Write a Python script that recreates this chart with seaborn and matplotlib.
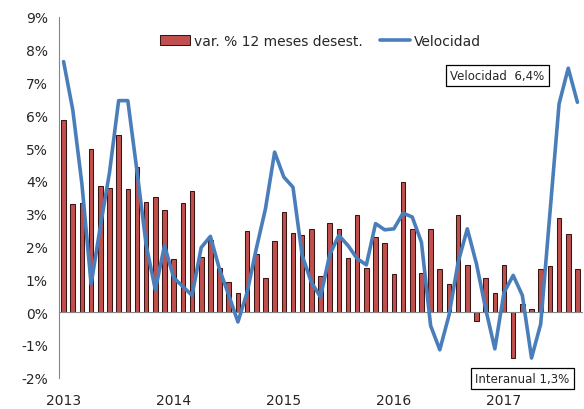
import numpy as np
import pandas as pd
import matplotlib
matplotlib.use("Agg")
import matplotlib.pyplot as plt
import matplotlib.transforms as mtransforms
from matplotlib.patches import Patch
from matplotlib.lines import Line2D
import seaborn as sns

# Monthly data Jan 2013 - Sep 2017
interanual = [5.87, 3.31, 3.34, 4.98, 3.86, 3.78, 5.41, 3.75, 4.42, 3.35,
              3.52, 3.12, 1.62, 3.34, 3.68, 1.69, 2.20, 1.35, 0.91, 0.59,
              2.48, 1.78, 1.03, 2.18, 3.05, 2.42, 2.35, 2.52, 1.10, 2.72,
              2.52, 1.66, 2.96, 1.35, 2.29, 2.12, 1.16, 3.98, 2.55, 1.19,
              2.52, 1.32, 0.85, 2.96, 1.45, -0.28, 1.03, 0.59, 1.45, -1.40,
              0.25, 0.10, 1.32, 1.42, 2.86, 2.39, 1.32]
velocidad = [7.64, 6.17, 3.90, 0.85, 2.60, 4.25, 6.45, 6.45, 4.30, 2.05,
             0.68, 2.03, 1.05, 0.78, 0.51, 1.97, 2.31, 1.30, 0.52, -0.30,
             0.60, 1.93, 3.15, 4.88, 4.12, 3.81, 1.73, 0.91, 0.46, 1.75,
             2.34, 2.03, 1.63, 1.44, 2.70, 2.51, 2.54, 3.02, 2.90, 2.13,
             -0.41, -1.15, -0.10, 1.52, 2.54, 1.47, 0.10, -1.12, 0.60, 1.12,
             0.51, -1.40, -0.36, 3.00, 6.35, 7.44, 6.40]
years = ["2013", "2014", "2015", "2016", "2017"]
y_ticks = [-2, -1, 0, 1, 2, 3, 4, 5, 6, 7, 8, 9]

n = len(interanual)
df = pd.DataFrame({"idx": np.arange(n), "inter": interanual, "vel": velocidad})

sns.set_style("white")
plt.rcParams["font.family"] = ["DejaVu Sans"]

fig = plt.figure(figsize=(5.84, 4.10), dpi=100)
ax = fig.add_axes([59 / 584, 1 - 378.7 / 410, 523 / 584, (378.7 - 18) / 410])

bar_color = "#C0504D"
edge_color = "#3a1514"
line_color = "#4A7EBB"
grey = "#868686"

sns.barplot(data=df, x="idx", y="inter", color=bar_color, width=0.5,
            edgecolor=edge_color, linewidth=0.75, saturation=1, ax=ax)
for p in ax.patches:
    p.set_facecolor(bar_color)
sns.lineplot(data=df, x="idx", y="vel", color=line_color, linewidth=2.6,
             ax=ax, zorder=5)

ax.set_xlim(-0.5, n - 0.5)
ax.set_ylim(-2, 9)
ax.set_yticks(y_ticks)
ax.set_yticklabels([f"{v}%" for v in y_ticks], fontsize=10)
ax.set_xlabel("")
ax.set_ylabel("")

# x axis at zero with month boundary ticks
ax.spines["bottom"].set_position(("data", 0))
ax.spines["bottom"].set_color(grey)
ax.spines["left"].set_color(grey)
ax.spines["top"].set_visible(False)
ax.spines["right"].set_visible(False)
ax.set_xticks(np.arange(-0.5, n, 1.0))
ax.set_xticklabels([])
ax.tick_params(axis="x", direction="out", length=4, color=grey, width=0.8)
ax.tick_params(axis="y", direction="out", length=5, color=grey, width=0.8,
               pad=3)

trans = mtransforms.blended_transform_factory(ax.transData, ax.transAxes)
for i, yr in enumerate(years):
    ax.text(i * 12, -0.063, yr, transform=trans, ha="center", va="center",
            fontsize=10)

handles = [Patch(facecolor=bar_color, edgecolor=edge_color, linewidth=0.75),
           Line2D([0], [0], color=line_color, linewidth=2.6)]
ax.legend(handles, ["var. % 12 meses desest.", "Velocidad"], loc="center",
          bbox_to_anchor=(0.5, 0.933), ncol=2, frameon=False, fontsize=10,
          handlelength=2.2, handletextpad=0.3, columnspacing=1.2)

box = dict(boxstyle="square,pad=0.35", facecolor="white", edgecolor="black",
           linewidth=0.9)
ax.text(0.838, 0.838, "Velocidad  6,4%", transform=ax.transAxes, ha="center",
        va="center", fontsize=8.5, bbox=box, zorder=10)
ax.text(0.886, -0.002, "Interanual 1,3%", transform=ax.transAxes, ha="center",
        va="center", fontsize=8.5, bbox=box, zorder=10, clip_on=False)

fig.savefig("out.png", dpi=100)
